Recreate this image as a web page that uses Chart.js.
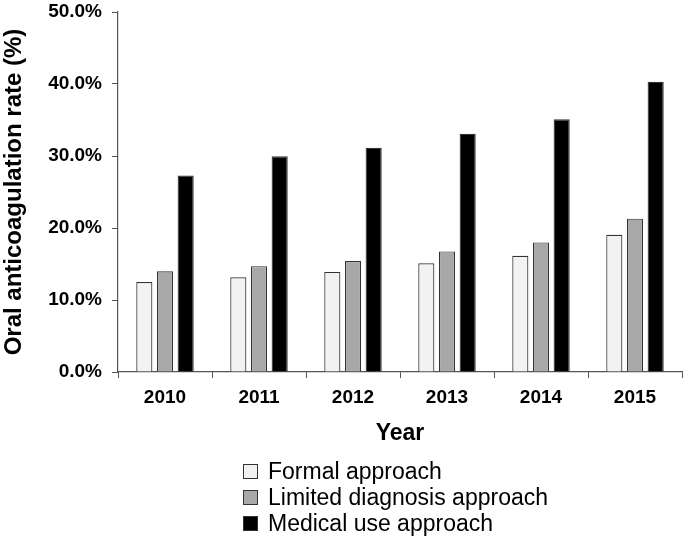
<!DOCTYPE html>
<html>
<head>
<meta charset="utf-8">
<script src="https://cdn.jsdelivr.net/npm/chart.js@4"></script>
<style>
html,body{margin:0;padding:0;background:#fff;}
#wrap{position:relative;width:685px;height:539px;}
#c{position:absolute;left:0;top:0;}
#legend{position:absolute;left:243px;top:458px;font-family:"Liberation Sans",Arial,sans-serif;font-size:23px;color:#000;}
.row{display:flex;align-items:center;height:26px;}
.sw{width:15px;height:15px;border:1px solid #333;margin-right:10px;box-sizing:border-box;}
</style>
</head>
<body>
<div id="wrap">
<canvas id="c" width="685" height="539"></canvas>
<div id="legend"></div>
</div>
<script>
const years = ["2010","2011","2012","2013","2014","2015"];
const formal = [12.5, 13.15, 13.9, 15.1, 16.15, 19.07];
const limited = [14.0, 14.7, 15.4, 16.75, 18.0, 21.3];
const medical = [27.3, 29.95, 31.15, 33.1, 35.1, 40.3];
const seriesNames = ["Formal approach","Limited diagnosis approach","Medical use approach"];
const fills = ["#f2f2f2","#a8a8a8","#000000"];
const yTicks = [0,10,20,30,40,50];

const font = "'Liberation Sans', Arial, sans-serif";
const data = {
  labels: years,
  datasets: [formal, limited, medical].map((d,i)=>({
    label: seriesNames[i],
    data: d,
    backgroundColor: fills[i],
    borderColor: "#333",
    borderWidth: 1.2,
    categoryPercentage: 0.66,
    barPercentage: 0.78
  }))
};
new Chart(document.getElementById('c'), {
  type: 'bar',
  data,
  options: {
    responsive: false,
    animation: false,
    layout: {padding: {top: 12, right: 3, left: 0, bottom: 87}},
    plugins: {legend: {display: false}, tooltip: {enabled: false}},
    scales: {
      x: {
        afterFit: (s) => { s.height = 80; s.paddingLeft = 0; s.paddingRight = 0; },
        grid: {display: true, drawOnChartArea: false, color: "#555", tickLength: 6, offset: true},
        border: {color: "#555", width: 1.2},
        ticks: {color: "#000", font: {family: font, size: 19, weight: 'bold'}, padding: 8},
        title: {display: true, text: "Year", color: "#000", font: {family: font, size: 23, weight: 'bold'}, padding: {top: 0, bottom: 5}}
      },
      y: {
        min: 0, max: 50,
        afterFit: (s) => { s.width = 118; s.paddingTop = 0; s.paddingBottom = 0; },
        afterBuildTicks: (s) => { s.ticks = yTicks.map(v=>({value:v})); },
        grid: {display: true, drawOnChartArea: false, color: "#555", tickLength: 6},
        border: {color: "#555", width: 1.2},
        ticks: {color: "#000", font: {family: font, size: 19, weight: 'bold'}, padding: 10,
          callback: (v) => v.toFixed(1) + "%"},
        title: {display: true, text: "Oral anticoagulation rate (%)", color: "#000", font: {family: font, size: 24, weight: 'bold'}, padding: {top: 0, bottom: 4}}
      }
    }
  }
});
const lg = document.getElementById('legend');
seriesNames.forEach((n,i)=>{
  const r = document.createElement('div'); r.className='row';
  const s = document.createElement('div'); s.className='sw'; s.style.background = fills[i];
  const t = document.createElement('span'); t.textContent = n;
  r.appendChild(s); r.appendChild(t); lg.appendChild(r);
});
</script>
</body>
</html>
